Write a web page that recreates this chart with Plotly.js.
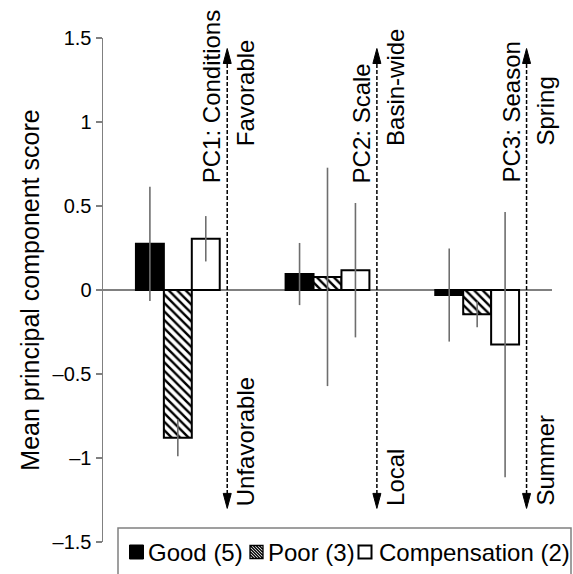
<!DOCTYPE html>
<html><head><meta charset="utf-8">
<script src="https://cdn.plot.ly/plotly-3.0.1.min.js"></script>
<style>html,body{margin:0;padding:0;background:#fff}#chart{width:573px;height:574px}</style>
</head><body><div id="chart"></div>
<script>
// ---- data ----
const categories = ['PC1', 'PC2', 'PC3'];
const goodValues = [0.275, 0.095, -0.03];
const goodErrors = [0.34, 0.185, 0.277];
const poorValues = [-0.88, 0.078, -0.145];
const poorErrors = [0.11, 0.65, 0.077];
const compValues = [0.305, 0.118, -0.325];
const compErrors = [0.135, 0.40, 0.79];
const seriesNames = ['Good (5)', 'Poor (3)', 'Compensation (2)'];
const axisLabels = ['PC1: Conditions', 'PC2: Scale', 'PC3: Season'];
const positiveLabels = ['Favorable', 'Basin-wide', 'Spring'];
const negativeLabels = ['Unfavorable', 'Local', 'Summer'];
const yTickValues = [-1.5, -1, -0.5, 0, 0.5, 1, 1.5];
const yTickText = ['\u20131.5', '\u20131', '\u20130.5', '0', '0.5', '1', '1.5'];
const yTitle = 'Mean principal component score';

// ---- layout helpers ----
const W = 573, H = 574, L = 103, R = 21, T = 38, B = 32;
const plotW = W - L - R, plotH = H - T - B;
const pxX = px => (px - L) / plotW;
const pxY = py => (H - B - py) / plotH;
const FONT = '"Liberation Sans", Arial, Helvetica, sans-serif';
const GRAY = '#808080';
const ERRC = '#6e6e6e';

function errBar(arr) {
  return {type: 'data', array: arr, symmetric: true, color: ERRC, thickness: 1.6, width: 0};
}

const traces = [
  {type: 'bar', name: seriesNames[0], x: categories, y: goodValues, error_y: errBar(goodErrors),
   marker: {color: '#000', line: {color: '#000', width: 2}}, showlegend: false},
  {type: 'bar', name: seriesNames[1], x: categories, y: poorValues, error_y: errBar(poorErrors),
   marker: {color: '#fff', line: {color: '#000', width: 2},
            pattern: {shape: '\\', fgcolor: '#000', bgcolor: '#fff', size: 6, solidity: 0.4}}, showlegend: false},
  {type: 'bar', name: seriesNames[2], x: categories, y: compValues, error_y: errBar(compErrors),
   marker: {color: '#fff', line: {color: '#000', width: 2}}, showlegend: false}
];

const ARROW_OFF = 0.33, TIP_TOP = 1.4375, TIP_BOT = -1.30;
const shapes = [];
const annotations = [];
categories.forEach((c, i) => {
  const ax = i + ARROW_OFF;
  shapes.push({type: 'line', xref: 'x', yref: 'y', x0: ax, x1: ax, y0: TIP_BOT + 0.05, y1: TIP_TOP - 0.05,
               line: {color: '#000', width: 1.5, dash: '4px,2px'}, layer: 'above'});
  shapes.push({type: 'path', xref: 'x', yref: 'y', xsizemode: 'pixel', ysizemode: 'pixel',
               xanchor: ax, yanchor: TIP_TOP, path: 'M0,0 L-4,-15 L4,-15 Z',
               fillcolor: '#000', line: {color: '#000', width: 1}});
  shapes.push({type: 'path', xref: 'x', yref: 'y', xsizemode: 'pixel', ysizemode: 'pixel',
               xanchor: ax, yanchor: TIP_BOT, path: 'M0,0 L-4,15 L4,15 Z',
               fillcolor: '#000', line: {color: '#000', width: 1}});
  annotations.push({xref: 'x', yref: 'y', x: ax, y: 0.625, xanchor: 'right', yanchor: 'bottom',
                    text: axisLabels[i], textangle: -90, showarrow: false, xshift: 0,
                    font: {family: FONT, size: 24, color: '#000'}});
  annotations.push({xref: 'x', yref: 'y', x: ax, y: 0.845, xanchor: 'left', yanchor: 'bottom',
                    text: positiveLabels[i], textangle: -90, showarrow: false, xshift: 3,
                    font: {family: FONT, size: 24, color: '#000'}});
  annotations.push({xref: 'x', yref: 'y', x: ax, y: -1.298, xanchor: 'left', yanchor: 'bottom',
                    text: negativeLabels[i], textangle: -90, showarrow: false, xshift: 3,
                    font: {family: FONT, size: 24, color: '#000'}});
});

// ---- legend (drawn as a boxed row) ----
shapes.push({type: 'rect', xref: 'paper', yref: 'paper', x0: pxX(118), x1: pxX(571), y0: pxY(528), y1: pxY(620),
             line: {color: GRAY, width: 1.5}, fillcolor: 'rgba(0,0,0,0)'});
const legY = pxY(552);
const legSym = [136.5, 256.5, 365];
const legText = [146, 266, 377];
shapes.push({type: 'path', xref: 'paper', yref: 'paper', xsizemode: 'pixel', ysizemode: 'pixel',
             xanchor: pxX(legSym[0]), yanchor: legY, path: 'M-7,-7 L7,-7 L7,7 L-7,7 Z',
             fillcolor: '#000', line: {color: '#000', width: 1}});
// hatched square
(function () {
  const h = 6.5;
  let p = `M${-h},${-h} L${h},${-h} L${h},${h} L${-h},${h} Z`;
  for (let cc = -9; cc <= 9; cc += 3) {
    const xa = Math.max(-h, cc - h), xb = Math.min(h, cc + h);
    if (xb - xa < 0.5) continue;
    p += ` M${xa},${cc - xa} L${xb},${cc - xb}`;
  }
  shapes.push({type: 'path', xref: 'paper', yref: 'paper', xsizemode: 'pixel', ysizemode: 'pixel',
               xanchor: pxX(legSym[1]), yanchor: legY, path: p,
               fillcolor: '#fff', line: {color: '#000', width: 1.3}});
})();
shapes.push({type: 'path', xref: 'paper', yref: 'paper', xsizemode: 'pixel', ysizemode: 'pixel',
             xanchor: pxX(legSym[2]), yanchor: legY, path: 'M-6.5,-6.5 L6.5,-6.5 L6.5,6.5 L-6.5,6.5 Z',
             fillcolor: '#fff', line: {color: '#000', width: 2}});
seriesNames.forEach((n, i) => {
  annotations.push({xref: 'paper', yref: 'paper', x: pxX(legText[i]), y: legY, xanchor: 'left', yanchor: 'middle',
                    text: n, showarrow: false, font: {family: FONT, size: 24, color: '#000'}});
});

const layout = {
  width: W, height: H,
  margin: {l: L, r: R, t: T, b: B, pad: 0},
  paper_bgcolor: '#fff', plot_bgcolor: '#fff',
  font: {family: FONT, color: '#000'},
  barmode: 'group', bargap: 0.44, bargroupgap: 0,
  showlegend: false,
  xaxis: {type: 'category', showticklabels: false, showline: false, showgrid: false, zeroline: false,
          ticks: '', range: [-0.5, 2.5], fixedrange: true},
  yaxis: {range: [-1.5, 1.5], tickmode: 'array', tickvals: yTickValues, ticktext: yTickText,
          ticks: 'outside', ticklen: 6, tickwidth: 1.5,
          tickcolor: GRAY, showline: true, linecolor: GRAY, linewidth: 1.5, showgrid: false,
          zeroline: true, zerolinecolor: GRAY, zerolinewidth: 1.5,
          tickfont: {family: FONT, size: 20, color: '#000'},
          title: {text: yTitle, font: {family: FONT, size: 25, color: '#000'}, standoff: 6},
          automargin: false, fixedrange: true},
  shapes: shapes,
  annotations: annotations
};

Plotly.newPlot('chart', traces, layout, {displayModeBar: false, staticPlot: true});
</script>
</body></html>
